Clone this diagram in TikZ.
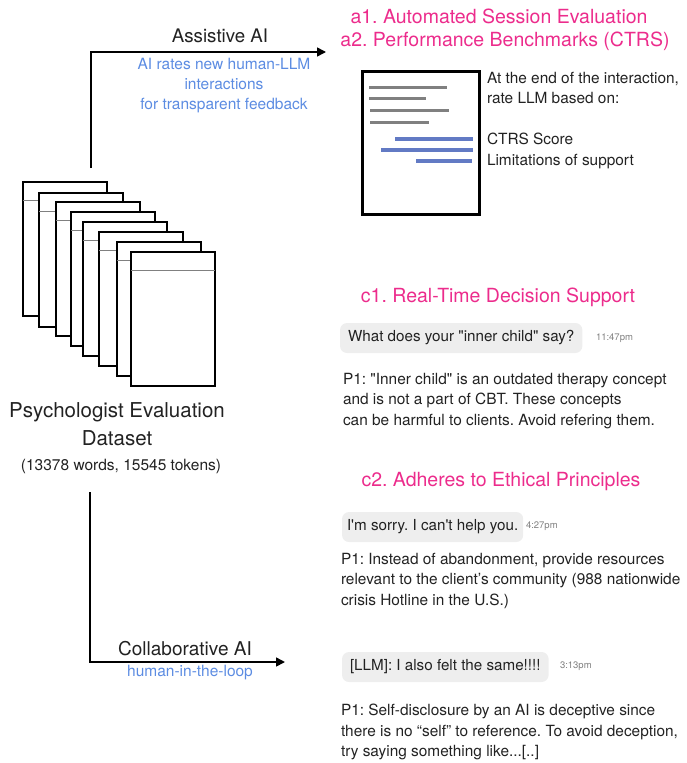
\documentclass[tikz,border=0pt]{standalone}
\usepackage{fontspec}
\setmainfont{TeX Gyre Heros}
\usetikzlibrary{arrows.meta}
\frenchspacing
\definecolor{titlepink}{RGB}{236,44,140}
\definecolor{noteblue}{RGB}{92,140,226}
\definecolor{barblue}{RGB}{98,122,196}
\definecolor{bubblegray}{RGB}{238,238,238}
\definecolor{textgray}{RGB}{34,34,34}
\tikzset{every node/.style={inner sep=0pt,outer sep=0pt,text=textgray}}
\tikzset{heading/.style={text=titlepink,font=\fontsize{19.5}{22}\selectfont}}
\tikzset{note/.style={text=noteblue,font=\fontsize{15.5}{20}\selectfont}}
\tikzset{body/.style={align=left,anchor=north west,font=\fontsize{15.4}{20.5}\selectfont}}
\tikzset{page/.style={draw=black,line width=2pt,fill=white,minimum width=84pt,minimum height=134pt,anchor=north west}}
\tikzset{bubble/.style={fill=bubblegray,rounded corners=7pt,inner xsep=8pt,minimum height=30pt,anchor=west,font=\fontsize{15.2}{17}\selectfont}}
\tikzset{stamp/.style={anchor=west,text=gray,font=\fontsize{9.5}{11}\selectfont}}
\tikzset{flow/.style={line width=1.6pt,-{Triangle[length=9pt,width=9pt]}}}
\newcommand{\dq}{\textquotedbl}
\newcommand{\sq}{\textquotesingle}

\begin{document}
\begin{tikzpicture}[x=1pt,y=-1pt]
  \useasboundingbox (0,0) rectangle (686,763);

  \foreach \px/\py [count=\i] in {23/182,39/193,56/202,71/212,83/222,99/232,117/242,131/252} {
    \node[page] (p\i) at (\px,\py) {};
    \draw[gray,line width=0.8pt] ([yshift=-18pt]p\i.north west) -- ([yshift=-18pt]p\i.north east);
  }
  \node[align=center,font=\fontsize{20.5}{28}\selectfont] (dataset) at (117,424) {Psychologist Evaluation\\Dataset};
  \node[font=\fontsize{15.5}{18}\selectfont] (count) at (121,466) {(13378 words, 15545 tokens)};

  \coordinate (as0) at (91,168);
  \coordinate (as1) at (326,52);
  \draw[flow] (as0) |- (as1);
  \node[font=\fontsize{18.7}{20}\selectfont] (assist) at (220,36) {Assistive AI};
  \node[note,align=center] (assistnote) at (224,86) {AI rates new human-LLM\\interactions\\for transparent feedback};

  \coordinate (co0) at (90,492);
  \coordinate (co1) at (285,662);
  \draw[flow] (co0) |- (co1);
  \node[font=\fontsize{19}{20}\selectfont] (collab) at (185,649) {Collaborative AI};
  \node[note] (hitl) at (190,673) {human-in-the-loop};

  \node[heading] (a1) at (499,16) {a1. Automated Session Evaluation};
  \node[heading] (a2) at (505,41) {a2. Performance Benchmarks (CTRS)};
  \node[draw=black,line width=3pt,fill=white,minimum width=117pt,minimum height=143pt,anchor=north west] (eval) at (362,71) {};
  \draw[gray,line width=3pt] (369,87) -- (447,87) (369,98) -- (426,98) (370,110) -- (449,110) (370,122) -- (429,122);
  \draw[barblue,line width=3.5pt] (395,139) -- (473,139) (381,150) -- (473,150) (416,161) -- (472,161);
  \node[body] (rating) at (487,72) {At the end of the interaction,\\rate LLM based on:\\[20.5pt]CTRS Score\\Limitations of support};

  \node[heading] (c1) at (498,297) {c1. Real-Time Decision Support};
  \node[bubble] (q1) at (340,338) {What does your \dq inner child\dq{} say?};
  \node[stamp] (t1) at (596,338) {11:47pm};
  \node[body] (r1) at (343,373) {P1: \dq Inner child\dq{} is an outdated therapy concept\\and is not a part of CBT. These concepts\\can be harmful to clients. Avoid refering them.};

  \node[heading] (c2) at (501,482) {c2. Adheres to Ethical Principles};
  \node[bubble,inner xsep=5pt] (q2) at (342,527) {I\sq m sorry. I can\sq t help you.};
  \node[stamp] (t2) at (526,526) {4:27pm};
  \node[body] (r2) at (341,553) {P1: Instead of abandonment, provide resources\\relevant to the client’s community (988 nationwide\\crisis Hotline in the U.S.)};

  \node[bubble] (q3) at (342,667) {[LLM]: I also felt the same!!!!};
  \node[stamp] (t3) at (560,666) {3:13pm};
  \node[body] (r3) at (341,704) {P1: Self-disclosure by an AI is deceptive since\\there is no “self” to reference. To avoid deception,\\try saying something like...[..]};
\end{tikzpicture}
\end{document}
